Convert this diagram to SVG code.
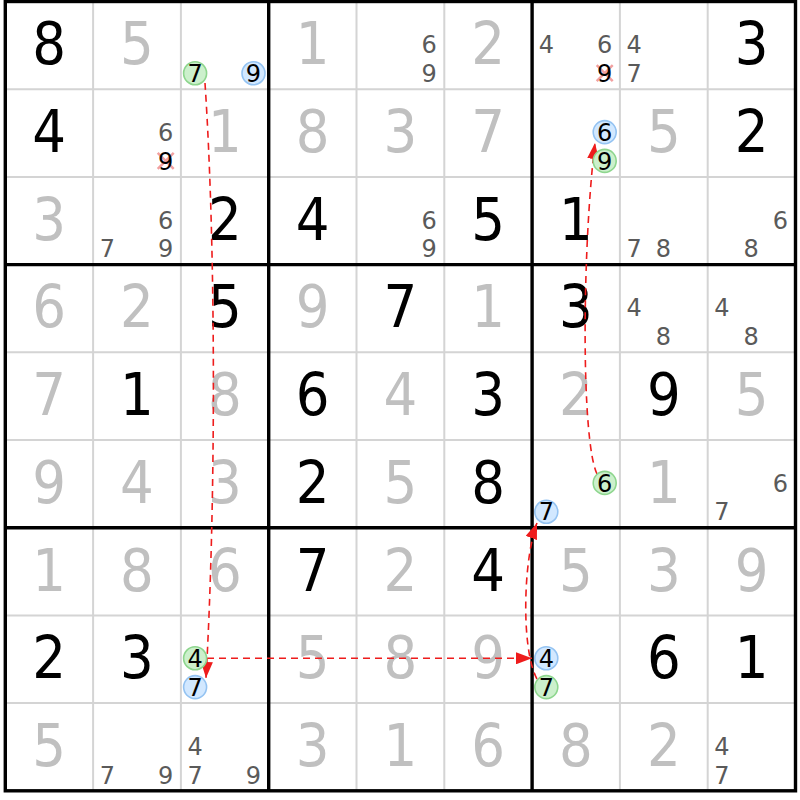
<svg xmlns="http://www.w3.org/2000/svg" width="800" height="800" viewBox="0 0 800 800">
<style>
text{font-family:"DejaVu Sans",Verdana,sans-serif;text-anchor:middle}
.b{font-size:59px;fill:#000;font-family:"DejaVu Sans Condensed","DejaVu Sans",sans-serif}
.s{font-size:59px;fill:#c0c0c0;font-family:"DejaVu Sans Condensed","DejaVu Sans",sans-serif}
.c{font-size:24px;fill:#5a5a5a}
.k{font-size:24px;fill:#000}
.gr{fill:#ccf0cc;stroke:#8ed68e;stroke-width:1.6}
.bl{fill:#d2e8ff;stroke:#94c3f2;stroke-width:1.6}
.thin{stroke:#d4d4d4;stroke-width:2;fill:none}
.thick{stroke:#000;stroke-width:3.4;fill:none}
.x{stroke:#f2a0a0;stroke-width:2.5}
.lk{stroke:#ee1c1c;stroke-width:1.6;stroke-dasharray:7,5;fill:none}
</style>
<defs>
<marker id="ah" viewBox="0 0 16 12" refX="16" refY="6" markerWidth="16" markerHeight="12" markerUnits="userSpaceOnUse" orient="auto">
<path d="M0,0 L16,6 L0,12 Z" fill="#ee1c1c"/>
</marker>
</defs>
<rect x="0" y="0" width="800" height="800" fill="#fff"/>
<g id="grid">
<path class="thin" d="M93.1,1.5V790.8M180.9,1.5V790.8M356.5,1.5V790.8M444.3,1.5V790.8M619.9,1.5V790.8M707.7,1.5V790.8M5.3,89.2H795.5M5.3,176.9H795.5M5.3,352.3H795.5M5.3,440H795.5M5.3,615.4H795.5M5.3,703.1H795.5"/>
<path class="thick" d="M268.7,1.5V790.8M532.1,1.5V790.8M5.3,264.6H795.5M5.3,527.7H795.5"/>
<rect class="thick" x="5.3" y="1.5" width="790.2" height="789.3"/>
</g>
<g id="digits">
<text class="b" x="49.2" y="64.35">8</text><text class="s" x="137" y="64.35">5</text><text class="s" x="312.6" y="64.35">1</text><text class="s" x="488.2" y="64.35">2</text><text class="b" x="751.6" y="64.35">3</text>
<text class="b" x="49.2" y="152.05">4</text><text class="s" x="224.8" y="152.05">1</text><text class="s" x="312.6" y="152.05">8</text><text class="s" x="400.4" y="152.05">3</text><text class="s" x="488.2" y="152.05">7</text><text class="s" x="663.8" y="152.05">5</text><text class="b" x="751.6" y="152.05">2</text>
<text class="s" x="49.2" y="239.75">3</text><text class="b" x="224.8" y="239.75">2</text><text class="b" x="312.6" y="239.75">4</text><text class="b" x="488.2" y="239.75">5</text><text class="b" x="576" y="239.75">1</text>
<text class="s" x="49.2" y="327.45">6</text><text class="s" x="137" y="327.45">2</text><text class="b" x="224.8" y="327.45">5</text><text class="s" x="312.6" y="327.45">9</text><text class="b" x="400.4" y="327.45">7</text><text class="s" x="488.2" y="327.45">1</text><text class="b" x="576" y="327.45">3</text>
<text class="s" x="49.2" y="415.15">7</text><text class="b" x="137" y="415.15">1</text><text class="s" x="224.8" y="415.15">8</text><text class="b" x="312.6" y="415.15">6</text><text class="s" x="400.4" y="415.15">4</text><text class="b" x="488.2" y="415.15">3</text><text class="s" x="576" y="415.15">2</text><text class="b" x="663.8" y="415.15">9</text><text class="s" x="751.6" y="415.15">5</text>
<text class="s" x="49.2" y="502.85">9</text><text class="s" x="137" y="502.85">4</text><text class="s" x="224.8" y="502.85">3</text><text class="b" x="312.6" y="502.85">2</text><text class="s" x="400.4" y="502.85">5</text><text class="b" x="488.2" y="502.85">8</text><text class="s" x="663.8" y="502.85">1</text>
<text class="s" x="49.2" y="590.55">1</text><text class="s" x="137" y="590.55">8</text><text class="s" x="224.8" y="590.55">6</text><text class="b" x="312.6" y="590.55">7</text><text class="s" x="400.4" y="590.55">2</text><text class="b" x="488.2" y="590.55">4</text><text class="s" x="576" y="590.55">5</text><text class="s" x="663.8" y="590.55">3</text><text class="s" x="751.6" y="590.55">9</text>
<text class="b" x="49.2" y="678.25">2</text><text class="b" x="137" y="678.25">3</text><text class="s" x="312.6" y="678.25">5</text><text class="s" x="400.4" y="678.25">8</text><text class="s" x="488.2" y="678.25">9</text><text class="b" x="663.8" y="678.25">6</text><text class="b" x="751.6" y="678.25">1</text>
<text class="s" x="49.2" y="765.95">5</text><text class="s" x="312.6" y="765.95">3</text><text class="s" x="400.4" y="765.95">1</text><text class="s" x="488.2" y="765.95">6</text><text class="s" x="576" y="765.95">8</text><text class="s" x="663.8" y="765.95">2</text>
</g>
<g id="candidates">
<text class="c" x="429.1" y="53.1">6</text><text class="c" x="429.1" y="81.9">9</text>
<text class="c" x="546.3" y="53.1">4</text><text class="c" x="604.7" y="53.1">6</text>
<text class="c" x="634.1" y="53.1">4</text><text class="c" x="634.1" y="81.9">7</text>
<text class="c" x="165.7" y="140.8">6</text>
<text class="c" x="165.7" y="228.5">6</text><text class="c" x="107.3" y="257.3">7</text><text class="c" x="165.7" y="257.3">9</text>
<text class="c" x="429.1" y="228.5">6</text><text class="c" x="429.1" y="257.3">9</text>
<text class="c" x="634.1" y="257.3">7</text><text class="c" x="663.3" y="257.3">8</text>
<text class="c" x="780.3" y="228.5">6</text><text class="c" x="751.1" y="257.3">8</text>
<text class="c" x="634.1" y="316.2">4</text><text class="c" x="663.3" y="345">8</text>
<text class="c" x="721.9" y="316.2">4</text><text class="c" x="751.1" y="345">8</text>
<text class="c" x="780.3" y="491.6">6</text><text class="c" x="721.9" y="520.4">7</text>
<text class="c" x="107.3" y="783.5">7</text><text class="c" x="165.7" y="783.5">9</text>
<text class="c" x="195.1" y="754.7">4</text><text class="c" x="195.1" y="783.5">7</text><text class="c" x="253.5" y="783.5">9</text>
<text class="c" x="721.9" y="754.7">4</text><text class="c" x="721.9" y="783.5">7</text>
</g>
<g id="eliminated">
<path class="x" d="M596.7,65.2L612.7,81.2M612.7,65.2L596.7,81.2"/>
<text class="k" x="604.7" y="81.9">9</text>
<path class="x" d="M157.7,152.9L173.7,168.9M173.7,152.9L157.7,168.9"/>
<text class="k" x="165.7" y="169.6">9</text>
</g>
<g id="links">
<path class="lk" marker-end="url(#ah)" d="M205,83 C216,250 216,500 206,678"/>
<path class="lk" marker-end="url(#ah)" d="M207,658.3 L532,658.3"/>
<path class="lk" marker-end="url(#ah)" d="M537,679 C521,650 523,560 537,523"/>
<path class="lk" marker-end="url(#ah)" d="M597,474 C581,440 582,250 595,143"/>
</g>
<g id="chain-nodes">
<g id="n-r1c3-7"><circle class="gr" cx="195.1" cy="73.2" r="11.5"/><text class="k" x="195.1" y="81.9">7</text></g>
<g id="n-r1c3-9"><circle class="bl" cx="253.5" cy="73.2" r="11.5"/><text class="k" x="253.5" y="81.9">9</text></g>
<g id="n-r2c7-6"><circle class="bl" cx="604.7" cy="132.1" r="11.5"/><text class="k" x="604.7" y="140.8">6</text></g>
<g id="n-r2c7-9"><circle class="gr" cx="604.7" cy="160.9" r="11.5"/><text class="k" x="604.7" y="169.6">9</text></g>
<g id="n-r6c7-6"><circle class="gr" cx="604.7" cy="482.9" r="11.5"/><text class="k" x="604.7" y="491.6">6</text></g>
<g id="n-r6c7-7"><circle class="bl" cx="546.3" cy="511.7" r="11.5"/><text class="k" x="546.3" y="520.4">7</text></g>
<g id="n-r8c3-4"><circle class="gr" cx="195.1" cy="658.3" r="11.5"/><text class="k" x="195.1" y="667">4</text></g>
<g id="n-r8c3-7"><circle class="bl" cx="195.1" cy="687.1" r="11.5"/><text class="k" x="195.1" y="695.8">7</text></g>
<g id="n-r8c7-4"><circle class="bl" cx="546.3" cy="658.3" r="11.5"/><text class="k" x="546.3" y="667">4</text></g>
<g id="n-r8c7-7"><circle class="gr" cx="546.3" cy="687.1" r="11.5"/><text class="k" x="546.3" y="695.8">7</text></g>
</g>
</svg>
